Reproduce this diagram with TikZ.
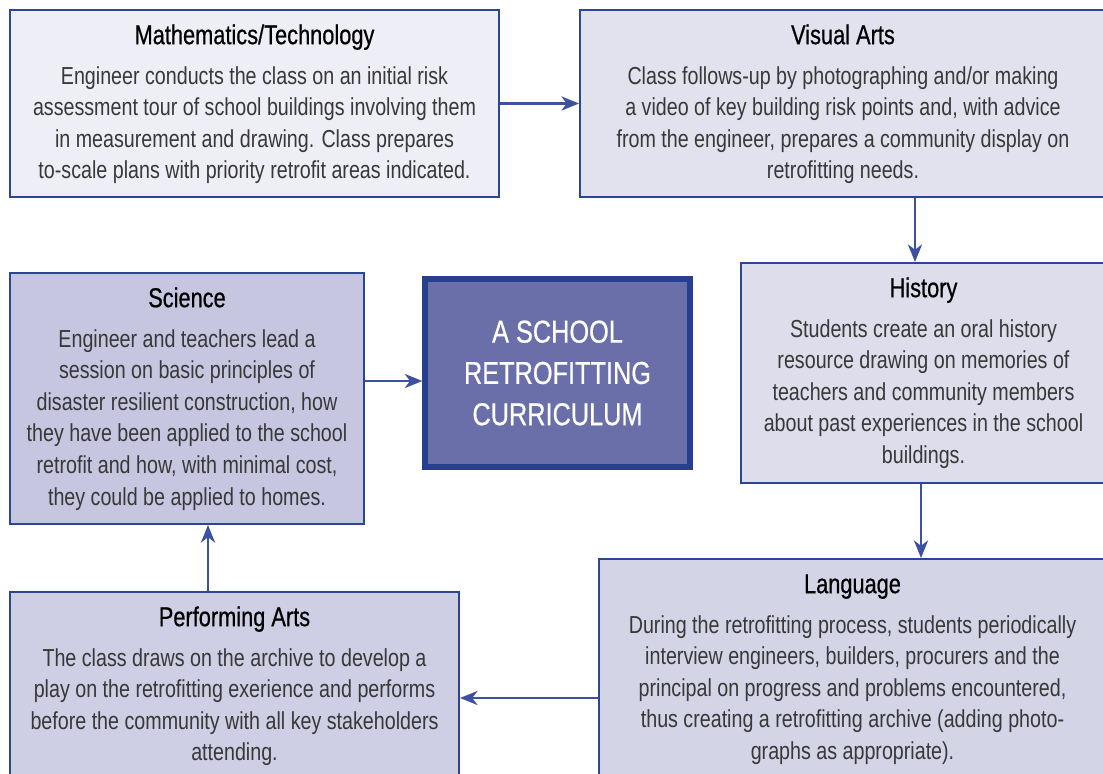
\documentclass[tikz,border=0pt]{standalone}
\usepackage{fontspec}
\usepackage{tikz}
\usetikzlibrary{positioning, calc, fit, arrows.meta}

\newfontfamily\boxfont{Liberation Sans}[FakeStretch=0.8]
\newfontfamily\headfont{Liberation Sans}[FakeStretch=0.8, FakeBold=0.6]

\definecolor{edge}{RGB}{44,70,150}
\definecolor{arrowc}{RGB}{62,80,160}
\definecolor{fillA}{RGB}{238,238,246}
\definecolor{fillB}{RGB}{226,226,239}
\definecolor{fillC}{RGB}{221,221,236}
\definecolor{fillD}{RGB}{212,212,231}
\definecolor{fillE}{RGB}{206,206,228}
\definecolor{fillF}{RGB}{198,198,224}
\definecolor{corefill}{RGB}{106,111,170}
\definecolor{coreedge}{RGB}{40,63,143}

\newcommand{\boxtitle}[1]{\rule{0pt}{12pt}{\headfont\fontsize{15.5}{18}\selectfont\color{black}#1}\\[4.7pt]}

\begin{document}
\begin{tikzpicture}[x=0.02cm, y=-0.02cm,
        box/.style={draw=edge, line width=1.1pt, inner sep=0pt},
        corebox/.style={draw=coreedge, fill=corefill, line width=3pt, inner sep=0pt},
        txt/.style={align=center, inner sep=0pt, text=black!78,
            font=\boxfont\fontsize{14}{18}\selectfont},
        coretxt/.style={align=center, inner sep=0pt, text=white,
            font=\headfont\fontsize{18}{23.5}\selectfont},
        arr/.style={draw=arrowc, line width=1.4pt,
            -{Stealth[length=10pt, width=8pt, inset=3pt]}}]
        \useasboundingbox (0,0) rectangle (1103,774);
        \clip (0,0) rectangle (1103,774);

        % the boxes
        \node[box, fill=fillA, fit={(10,10) (499,197)}]   (math)     {};
        \node[box, fill=fillB, fit={(580,10) (1106,197)}] (visual)   {};
        \node[box, fill=fillC, fit={(741,263) (1106,483)}] (history) {};
        \node[box, fill=fillD, fit={(599,559) (1106,790)}] (language) {};
        \node[box, fill=fillE, fit={(10,592) (459,790)}]  (perform)  {};
        \node[box, fill=fillF, fit={(10,273) (364,524)}]  (science)  {};
        \node[corebox, fit={(425,279) (690,467)}]         (core)     {};

        % where the arrows run
        \coordinate (vh) at (915,0);
        \coordinate (hl) at (921,0);
        \coordinate (lp) at (0,698);
        \coordinate (ps) at (208,0);
        \coordinate (sc) at (0,381);

        % the arrows
        \draw[arr] (math.east) -- (visual.west);
        \draw[arr] (visual.south -| vh) -- (history.north -| vh);
        \draw[arr] (history.south -| hl) -- (language.north -| hl);
        \draw[arr] (language.west |- lp) -- (perform.east |- lp);
        \draw[arr] (perform.north -| ps) -- (science.south -| ps);
        \draw[arr] (science.east |- sc) -- (core.west |- sc);

        % the texts
        \node[txt, below=7.8pt of math.north] (mathtext) {\boxtitle{Mathematics/Technology}
            Engineer conducts the class on an initial risk\\
            assessment tour of school buildings involving them\\
            in measurement and drawing. Class prepares\\
            to-scale plans with priority retrofit areas indicated.};
        \node[txt, below=7.8pt of visual.north] (visualtext) {\boxtitle{Visual Arts}
            Class follows-up by photographing and/or making\\
            a video of key building risk points and, with advice\\
            from the engineer, prepares a community display on\\
            retrofitting needs.};
        \node[txt, below=7.8pt of history.north] (historytext) {\boxtitle{History}
            Students create an oral history\\
            resource drawing on memories of\\
            teachers and community members\\
            about past experiences in the school\\
            buildings.};
        \node[txt, below=7.8pt of science.north] (sciencetext) {\boxtitle{Science}
            Engineer and teachers lead a\\
            session on basic principles of\\
            disaster resilient construction, how\\
            they have been applied to the school\\
            retrofit and how, with minimal cost,\\
            they could be applied to homes.};
        \node[txt, below=7.8pt of language.north] (languagetext) {\boxtitle{Language}
            During the retrofitting process, students periodically\\
            interview engineers, builders, procurers and the\\
            principal on progress and problems encountered,\\
            thus creating a retrofitting archive (adding photo-\\
            graphs as appropriate).};
        \node[txt, below=7.8pt of perform.north] (performtext) {\boxtitle{Performing Arts}
            The class draws on the archive to develop a\\
            play on the retrofitting exerience and performs\\
            before the community with all key stakeholders\\
            attending.};
        \node[coretxt] (coretext) at (core.center) {A SCHOOL\\RETROFITTING\\CURRICULUM};
    \end{tikzpicture}
\end{document}
